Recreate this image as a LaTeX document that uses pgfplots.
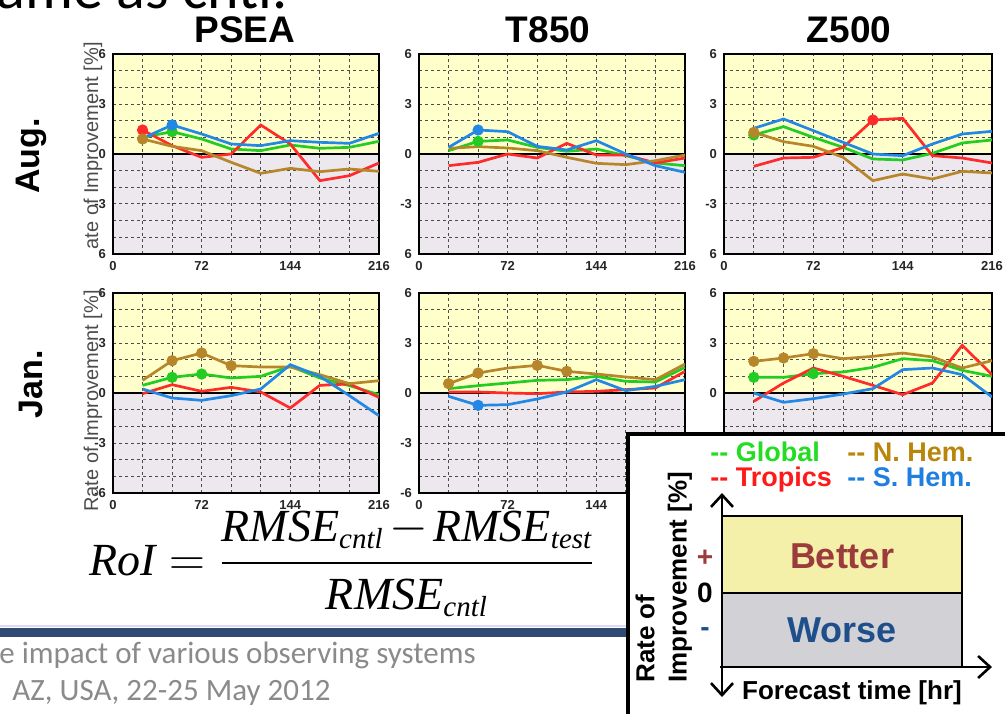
\documentclass[border=0pt]{standalone}
\usepackage{fontspec}
\usepackage{amsmath}
\setmainfont{Liberation Sans}
\newfontfamily\tnr{Liberation Serif}
\newfontfamily\carl{Carlito}
\usepackage{pgfplots}
\usepackage{pgfplotstable}
\pgfplotsset{compat=1.18}
\usetikzlibrary{arrows.meta}

\definecolor{yel}{HTML}{FFFFCC}
\definecolor{lav}{HTML}{ECE8EE}
\definecolor{cg}{HTML}{22CC22}
\definecolor{ct}{HTML}{FF2A2A}
\definecolor{cn}{HTML}{B8862A}
\definecolor{cs}{HTML}{2288E6}
\definecolor{lg}{HTML}{22DD22}
\definecolor{lt}{HTML}{FF1A1A}
\definecolor{ln}{HTML}{B8860B}
\definecolor{ls}{HTML}{1E7FE0}
\definecolor{betterfill}{HTML}{F4F0AA}
\definecolor{worsefill}{HTML}{D2D1D6}
\definecolor{bettertext}{HTML}{9B3B3B}
\definecolor{worsetext}{HTML}{1F4F8A}
\definecolor{barblue}{HTML}{2F4B73}
\definecolor{footgray}{HTML}{8A8A8A}

\pgfplotstableread{
h g t n s
24 1.0 1.44 0.9 0.94
48 1.34 0.5 0.46 1.74
72 0.9 -0.2 0.2 1.2
96 0.3 0.0 -0.5 0.6
120 0.2 1.74 -1.16 0.5
144 0.54 0.6 -0.86 0.8
168 0.34 -1.6 -1.06 0.7
192 0.4 -1.3 -0.9 0.64
216 0.76 -0.54 -1.04 1.24
}\psaug
\pgfplotstableread{
h g t n s
24 0.2 -0.7 0.34 0.4
48 0.76 -0.5 0.44 1.44
72 0.84 0.0 0.36 1.34
96 0.4 -0.24 0.2 0.46
120 0.16 0.64 -0.2 0.24
144 0.3 -0.06 -0.56 0.8
168 -0.1 -0.06 -0.64 0.0
192 -0.54 -0.54 -0.4 -0.7
216 -0.7 -0.24 -0.06 -1.1
}\taug
\pgfplotstableread{
h g t n s
24 1.14 -0.74 1.3 1.54
48 1.64 -0.24 0.74 2.1
72 1.0 -0.2 0.46 1.4
96 0.4 0.4 -0.2 0.7
120 -0.3 2.04 -1.6 0.0
144 -0.36 2.14 -1.2 -0.1
168 0.04 -0.1 -1.5 0.6
192 0.66 -0.24 -1.04 1.2
216 0.84 -0.54 -1.14 1.36
}\zaug
\pgfplotstableread{
h g t n s
24 0.46 -0.04 0.76 0.24
48 0.94 0.5 1.94 -0.3
72 1.14 0.1 2.4 -0.44
96 0.9 0.34 1.64 -0.16
120 1.0 0.06 1.56 0.24
144 1.6 -0.9 1.56 1.7
168 0.9 0.46 1.1 1.0
192 0.44 0.54 0.56 -0.16
216 -0.1 -0.26 0.74 -1.36
}\psjan
\pgfplotstableread{
h g t n s
24 0.26 0.06 0.56 -0.2
48 0.44 0.06 1.2 -0.74
72 0.6 0.0 1.5 -0.7
96 0.76 -0.04 1.66 -0.36
120 0.8 0.06 1.3 0.06
144 1.0 0.1 1.14 0.8
168 0.7 0.2 0.96 0.14
192 0.66 0.3 0.8 0.4
216 1.54 1.3 1.74 0.8
}\tjan
\pgfplotstableread{
h g t n s
24 0.94 -0.5 1.9 0.0
48 0.94 0.6 2.1 -0.56
72 1.16 1.5 2.36 -0.34
96 1.26 1.0 2.06 -0.06
120 1.54 0.46 2.2 0.26
144 2.06 -0.1 2.4 1.4
168 1.94 0.6 2.16 1.5
192 1.36 2.86 1.5 1.1
216 1.0 1.1 1.94 -0.24
}\zjan

\pgfplotsset{
 panel/.style={
  scale only axis, width=133pt, height=100pt,
  xmin=0, xmax=216, ymin=-6, ymax=6,
  xtick={0,72,144,216}, xticklabels={0,72,144,216},
  ytick={-6,-3,0,3,6},
  minor xtick={24,48,96,120,168,192},
  minor ytick={-5,-4,-2,-1,1,2,4,5},
  grid=both,
  major grid style={black!70, line width=0.5pt, dash pattern=on 1.6pt off 1.4pt},
  minor grid style={black!70, line width=0.5pt, dash pattern=on 1.6pt off 1.4pt},
  major tick length=0pt, minor tick length=0pt,
  axis line style={line width=1.1pt},
  tick label style={font=\fontsize{6.5}{7.5}\selectfont\bfseries, text=black!85},
  set layers,
 },
 lin/.style={line width=1.35pt, color=#1, mark=none},
 dot/.style={only marks, mark=*, mark size=2.6pt, color=#1, mark options={fill=#1, draw=#1}},
}

\newcommand\bg{%
 \addplot[fill=yel, draw=none, on layer=axis background, forget plot] coordinates {(0,0) (216,0) (216,6) (0,6) (0,0)};
 \addplot[fill=lav, draw=none, on layer=axis background, forget plot] coordinates {(0,0) (216,0) (216,-6) (0,-6) (0,0)};
 \addplot[black, line width=0.8pt, forget plot] coordinates {(0,0) (216,0)};
}
\newcommand\fourlines[1]{%
 \addplot[lin=cg] table[x=h,y=g]{#1};
 \addplot[lin=ct] table[x=h,y=t]{#1};
 \addplot[lin=cn] table[x=h,y=n]{#1};
 \addplot[lin=cs] table[x=h,y=s]{#1};
}

\begin{document}
\begin{tikzpicture}

% ---------- top row (Aug.)
\begin{axis}[panel, at={(56.5pt,-27pt)}, anchor=north west, yticklabels={6,-3,0,3,6}]
\bg
\fourlines{\psaug}
\addplot[dot=cg] coordinates {(48,1.34)};
\addplot[dot=ct] coordinates {(24,1.44)};
\addplot[dot=cn] coordinates {(24,0.9)};
\addplot[dot=cs] coordinates {(48,1.74)};
\end{axis}

\begin{axis}[panel, at={(209.5pt,-27pt)}, anchor=north west, yticklabels={6,-3,0,3,6}]
\bg
\fourlines{\taug}
\addplot[dot=cg] coordinates {(48,0.76)};
\addplot[dot=cs] coordinates {(48,1.44)};
\end{axis}

\begin{axis}[panel, width=134pt, at={(362pt,-27pt)}, anchor=north west, yticklabels={6,-3,0,3,6}]
\bg
\fourlines{\zaug}
\addplot[dot=cg] coordinates {(24,1.14)};
\addplot[dot=cn] coordinates {(24,1.3)};
\addplot[dot=ct] coordinates {(120,2.04)};
\end{axis}

% ---------- bottom row (Jan.)
\begin{axis}[panel, at={(56.5pt,-146.5pt)}, anchor=north west, yticklabels={-6,-3,0,3,6}]
\bg
\fourlines{\psjan}
\addplot[dot=cn] coordinates {(48,1.94) (72,2.4) (96,1.64)};
\addplot[dot=cg] coordinates {(48,0.94) (72,1.14)};
\end{axis}

\begin{axis}[panel, at={(209.5pt,-146.5pt)}, anchor=north west, yticklabels={-6,-3,0,3,6}]
\bg
\fourlines{\tjan}
\addplot[dot=cn] coordinates {(24,0.56) (48,1.2) (96,1.66) (120,1.3)};
\addplot[dot=cs] coordinates {(48,-0.74)};
\end{axis}

\begin{axis}[panel, width=134pt, at={(362pt,-146.5pt)}, anchor=north west, yticklabels={-6,-3,0,3,6}]
\bg
\fourlines{\zjan}
\addplot[dot=cn] coordinates {(24,1.9) (48,2.1) (72,2.36)};
\addplot[dot=cg] coordinates {(24,0.94) (72,1.16)};
\end{axis}

\begin{scope}[x=0.5pt,y=-0.5pt]
% slide title remnant
\node[anchor=base west, font=\carl\fontsize{30}{36}\selectfont, inner sep=0pt] at (-4,8) {ame as cntl.};
% column titles
\node[anchor=base, font=\bfseries\fontsize{18.5}{22}\selectfont, inner sep=0pt] at (245,42) {PSEA};
\node[anchor=base, font=\bfseries\fontsize{18.5}{22}\selectfont, inner sep=0pt] at (548,42) {T850};
\node[anchor=base, font=\bfseries\fontsize{18.5}{22}\selectfont, inner sep=0pt] at (849,42) {Z500};
% row labels
\node[rotate=90, font=\bfseries\fontsize{17}{20}\selectfont, inner sep=0pt] at (31,156) {Aug.};
\node[rotate=90, font=\bfseries\fontsize{17}{20}\selectfont, inner sep=0pt] at (31,384) {Jan.};
% y labels
\node[rotate=90, anchor=east, font=\fontsize{10}{12}\selectfont, text=black!70, inner sep=0pt] at (93,42) {ate of Improvement [\%]};
\node[rotate=90, anchor=east, font=\fontsize{10}{12}\selectfont, text=black!70, inner sep=0pt] at (93,290) {Rate of Improvement [\%]};
% formula
\newcommand\ti[1]{\text{\tnr\itshape #1}}
\newcommand\sub[1]{\mbox{\tnr\itshape\fontsize{14.5}{16}\selectfont #1}}
\node[anchor=base west, inner sep=0pt, font=\fontsize{23}{28}\selectfont] at (89,575)
 {$\displaystyle \ti{RoI} = \frac{\ti{RMSE}_{\sub{cntl}} \mskip-2mu-\mskip-2mu \ti{RMSE}_{\sub{test}}}{\ti{RMSE}_{\sub{cntl}}}$};
% slide footer
\draw[blue!15, line width=0.6pt] (0,626) -- (628,626);
\fill[barblue] (0,628) rectangle (628,637);
\node[anchor=base west, font=\carl\fontsize{15.5}{18}\selectfont, text=footgray, inner sep=0pt] at (-1,663) {e impact of various observing systems};
\node[anchor=base west, font=\carl\fontsize{15.5}{18}\selectfont, text=footgray, inner sep=0pt] at (12,700) {AZ, USA, 22-25 May 2012};
% legend / explanation box
\draw[line width=1.6pt, fill=white] (628,434) rectangle (1020,730);
\node[anchor=base west, font=\bfseries\fontsize{13.5}{16}\selectfont, text=lg, inner sep=0pt] at (710,461) {-{}- Global};
\node[anchor=base west, font=\bfseries\fontsize{13.5}{16}\selectfont, text=ln, inner sep=0pt] at (847,461) {-{}- N. Hem.};
\node[anchor=base west, font=\bfseries\fontsize{13.5}{16}\selectfont, text=lt, inner sep=0pt] at (710,486) {-{}- Tropics};
\node[anchor=base west, font=\bfseries\fontsize{13.5}{16}\selectfont, text=ls, inner sep=0pt] at (847,486) {-{}- S. Hem.};
\fill[betterfill] (722,516) rectangle (962,593);
\fill[worsefill] (722,593) rectangle (962,667);
\draw[line width=0.8pt] (722,516) rectangle (962,667);
\draw[line width=0.8pt] (722,593) -- (962,593);
\draw[line width=1.3pt, {Straight Barb[length=6pt,width=11pt]}-{Straight Barb[length=6pt,width=11pt]}] (722,493) -- (722,697);
\draw[line width=1.3pt, -{Straight Barb[length=6pt,width=11pt]}] (720,667) -- (992,667);
\node[font=\bfseries\fontsize{18}{21}\selectfont, text=bettertext] at (842,556) {Better};
\node[font=\bfseries\fontsize{18}{21}\selectfont, text=worsetext] at (842,630) {Worse};
\node[font=\bfseries\fontsize{14}{16}\selectfont, text=bettertext] at (705,558) {+};
\node[font=\bfseries\fontsize{14}{16}\selectfont] at (705,593) {0};
\node[font=\bfseries\fontsize{14}{16}\selectfont, text=worsetext] at (705,632) {-};
\node[rotate=90, anchor=west, font=\bfseries\fontsize{13}{16}\selectfont, inner sep=0pt] at (645,683) {Rate of};
\node[rotate=90, anchor=west, font=\bfseries\fontsize{13}{16}\selectfont, inner sep=0pt] at (680,683) {Improvement [\%]};
\node[anchor=base, font=\bfseries\fontsize{13}{16}\selectfont, inner sep=0pt] at (852,699) {Forecast time [hr]};
\end{scope}

\pgfresetboundingbox
\path[use as bounding box] (0,0) rectangle (502.5pt,-356.5pt);
\end{tikzpicture}
\end{document}
